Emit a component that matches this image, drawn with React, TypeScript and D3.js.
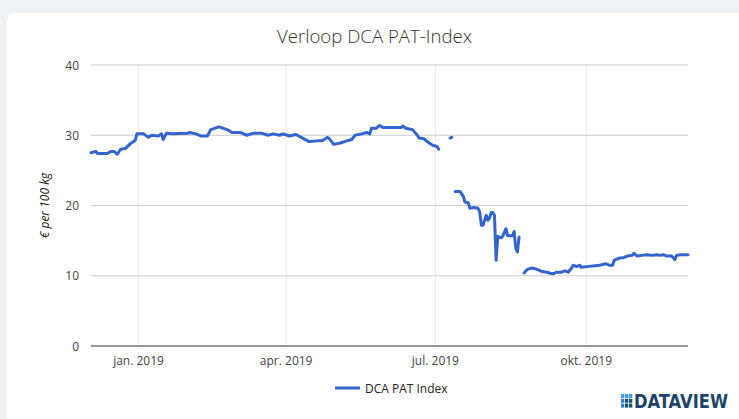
import React from "react";
import * as d3 from "d3";

const dates: string[] = [
  "2018-12-03","2018-12-06","2018-12-07","2018-12-13","2018-12-15","2018-12-17","2018-12-19","2018-12-21","2018-12-24","2018-12-27","2018-12-29","2018-12-30","2018-12-31",
  "2019-01-04","2019-01-07","2019-01-09","2019-01-13","2019-01-15","2019-01-16","2019-01-18","2019-01-22","2019-01-31",
  "2019-02-01","2019-02-05","2019-02-08","2019-02-12","2019-02-14","2019-02-19","2019-02-24","2019-02-27",
  "2019-03-04","2019-03-08","2019-03-12","2019-03-17","2019-03-21","2019-03-24","2019-03-28","2019-03-30",
  "2019-04-03","2019-04-07","2019-04-11","2019-04-15","2019-04-20","2019-04-23","2019-04-26","2019-04-27","2019-04-30",
  "2019-05-04","2019-05-08","2019-05-11","2019-05-13","2019-05-17","2019-05-20","2019-05-22","2019-05-23","2019-05-26","2019-05-28","2019-05-30",
  "2019-06-03","2019-06-10","2019-06-11","2019-06-13","2019-06-17","2019-06-20","2019-06-21","2019-06-24","2019-06-26","2019-06-29",
  "2019-07-02","2019-07-03","2019-07-06","2019-07-10","2019-07-11","2019-07-12","2019-07-13","2019-07-16","2019-07-18","2019-07-19","2019-07-21","2019-07-22","2019-07-24","2019-07-27","2019-07-28","2019-07-29","2019-07-30","2019-07-31",
  "2019-08-01","2019-08-02","2019-08-03","2019-08-04","2019-08-05","2019-08-06","2019-08-07","2019-08-08","2019-08-10","2019-08-11","2019-08-13","2019-08-14","2019-08-17","2019-08-18","2019-08-19","2019-08-20","2019-08-21","2019-08-22","2019-08-24","2019-08-26","2019-08-29",
  "2019-09-01","2019-09-04","2019-09-07","2019-09-09","2019-09-11","2019-09-13","2019-09-16","2019-09-18","2019-09-20","2019-09-22","2019-09-23","2019-09-25","2019-09-27","2019-09-28",
  "2019-10-01","2019-10-05","2019-10-09","2019-10-13","2019-10-15","2019-10-17","2019-10-18","2019-10-21","2019-10-24","2019-10-26","2019-10-29","2019-10-30",
  "2019-11-01","2019-11-04","2019-11-07","2019-11-10","2019-11-13","2019-11-15","2019-11-17","2019-11-19","2019-11-22","2019-11-24","2019-11-25","2019-11-28",
  "2019-12-02",
];

const values: (number | null)[] = [
  27.5,27.7,27.4,27.4,27.7,27.7,27.3,28.0,28.1,28.8,29.1,29.3,30.2,
  30.2,29.7,30.0,29.9,30.2,29.4,30.3,30.2,30.3,
  30.4,30.2,29.9,29.9,30.8,31.2,30.8,30.4,
  30.4,30.0,30.3,30.3,30.0,30.2,30.0,30.2,
  29.9,30.1,29.6,29.1,29.2,29.2,29.7,29.6,28.7,
  28.9,29.2,29.4,30.0,30.2,30.4,30.2,31.0,31.0,31.4,31.1,
  31.1,31.1,31.3,31.0,30.8,30.0,29.6,29.5,29.1,28.6,
  28.4,28.0,null,29.6,29.7,null,22.0,22.0,21.3,20.5,20.4,19.6,19.7,19.6,19.1,17.2,17.2,17.9,
  18.6,17.9,18.2,19.0,19.0,18.6,12.2,15.6,15.4,15.6,16.7,15.7,15.7,16.3,13.9,13.4,15.5,null,10.4,10.9,11.1,
  10.9,10.6,10.5,10.35,10.3,10.5,10.5,10.7,10.5,11.1,11.5,11.3,11.5,11.2,
  11.3,11.4,11.5,11.7,11.5,11.5,12.2,12.5,12.6,12.8,12.9,13.2,
  12.8,12.9,13.0,12.9,13.0,12.9,13.0,12.8,12.8,12.3,12.9,13.0,
  13.0,
];

const xTickDates: string[] = ["2019-01-01", "2019-04-01", "2019-07-01", "2019-10-01"];
const xTickLabels: string[] = ["jan. 2019", "apr. 2019", "jul. 2019", "okt. 2019"];
const yTicks: number[] = [0, 10, 20, 30, 40];
const title = "Verloop DCA PAT-Index";
const yAxisTitle = "€ per 100 kg";
const seriesName = "DCA PAT Index";

const W = 739;
const H = 419;
const FONT = "'Open Sans', 'Noto Sans', sans-serif";

export default function App() {
  const parse = d3.timeParse("%Y-%m-%d");
  const data = dates.map((d, i) => ({ date: parse(d) as Date, value: values[i] }));

  const x = d3
    .scaleTime()
    .domain([parse(dates[0]) as Date, parse(dates[dates.length - 1]) as Date])
    .range([91, 688]);
  const y = d3.scaleLinear().domain([0, 40]).range([346, 65]);

  const line = d3
    .line<{ date: Date; value: number | null }>()
    .defined((d) => d.value !== null)
    .x((d) => x(d.date))
    .y((d) => y(d.value as number));

  const [x0, x1] = x.range();

  const iconCells: { c: number; r: number; fill: string }[] = [];
  for (let r = 0; r < 3; r++) {
    for (let c = 0; c < 3; c++) {
      const fill = r === 0 ? "#3f9de0" : c === 0 ? "#2f7fc0" : "#1d4f7c";
      iconCells.push({ c, r, fill });
    }
  }

  return (
    <div style={{ position: "absolute", left: 0, top: 0, width: W, height: H }}>
      <svg width={W} height={H} style={{ display: "block" }}>
        <rect x={0} y={0} width={W} height={H} fill="#eef2f5" />
        <rect x={7} y={13} width={W + 20} height={H + 20} rx={8} fill="#ffffff" />

        <text
          x={374.5}
          y={43}
          textAnchor="middle"
          fontFamily={FONT}
          fontSize={18}
          fontWeight={300}
          fill="#333333"
          textLength={195}
          lengthAdjust="spacingAndGlyphs"
        >
          {title}
        </text>

        {xTickDates.map((d) => {
          const px = x(parse(d) as Date);
          return <line key={d} x1={px} x2={px} y1={y(40)} y2={y(0)} stroke="#ebebeb" strokeWidth={1} />;
        })}

        {yTicks.map((t) =>
          t === 0 ? null : (
            <line key={t} x1={x0} x2={x1} y1={y(t)} y2={y(t)} stroke="#cccccc" strokeWidth={1} />
          )
        )}

        {yTicks.map((t) => (
          <text
            key={"yl" + t}
            x={79}
            y={y(t) + 4.5}
            textAnchor="end"
            fontFamily={FONT}
            fontSize={12}
            fill="#444444"
          >
            {t}
          </text>
        ))}

        {xTickDates.map((d, i) => (
          <text
            key={"xl" + d}
            x={x(parse(d) as Date)}
            y={365}
            textAnchor="middle"
            fontFamily={FONT}
            fontSize={12}
            fill="#444444"
          >
            {xTickLabels[i]}
          </text>
        ))}

        <text
          transform={`translate(49, ${y(20)}) rotate(-90)`}
          textAnchor="middle"
          fontFamily={FONT}
          fontSize={12}
          fontStyle="italic"
          fill="#222222"
        >
          {yAxisTitle}
        </text>

        <path
          d={line(data) || ""}
          fill="none"
          stroke="#3366cc"
          strokeWidth={3}
          strokeLinejoin="round"
          strokeLinecap="round"
        />

        <line x1={x0} x2={x1} y1={y(0)} y2={y(0)} stroke="#333333" strokeWidth={1} />

        <line x1={335} x2={360} y1={388} y2={388} stroke="#3366cc" strokeWidth={3} />
        <text x={365} y={392.5} fontFamily={FONT} fontSize={12} fill="#222222">
          {seriesName}
        </text>

        {iconCells.map((cell, i) => (
          <rect
            key={"ic" + i}
            x={621 + cell.c * 4}
            y={394 + cell.r * 4.8}
            width={3.3}
            height={4}
            fill={cell.fill}
          />
        ))}
        <text
          x={634}
          y={408}
          fontFamily="'DejaVu Sans Condensed', 'DejaVu Sans', sans-serif"
          fontWeight={700}
          fontSize={19}
          fill="#1d4368"
          textLength={94}
          lengthAdjust="spacingAndGlyphs"
        >
          DATAVIEW
        </text>
      </svg>
    </div>
  );
}
